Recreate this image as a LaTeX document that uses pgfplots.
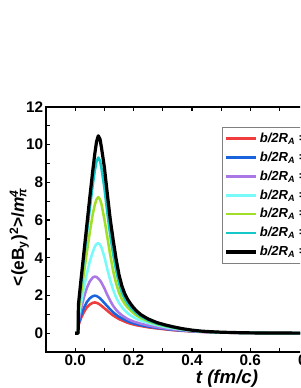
\documentclass[border=0pt]{standalone}
\usepackage{fontspec}
\setmainfont{Liberation Sans}
\usepackage{pgfplots}
\usepackage{pgfplotstable}
\pgfplotsset{compat=1.18}
\definecolor{cred}{RGB}{240,60,60}
\definecolor{cblue}{RGB}{25,100,220}
\definecolor{cpurple}{RGB}{170,120,230}
\definecolor{ccyan}{RGB}{120,250,250}
\definecolor{cgreen}{RGB}{160,222,40}
\definecolor{cteal}{RGB}{20,200,200}
\pgfplotstableread{
t red blue purple cyan green teal black
0 0 0 0 0 0 0 0
0.010 0 0 0 0 0 0 0
0.011 0.4 0.45 0.6 0.8 1.1 1.35 1.5
0.02 0.8 0.95 1.3 1.6 2.1 2.6 2.85
0.03 1.12 1.35 1.9 2.4 3.2 3.95 4.3
0.04 1.37 1.65 2.4 3.15 4.3 5.3 5.75
0.05 1.52 1.85 2.75 3.8 5.35 6.6 7.2
0.06 1.61 1.96 2.95 4.3 6.3 7.85 8.6
0.067 1.63 1.99 3.0 4.58 6.8 8.6 9.5
0.073 1.61 1.97 2.98 4.73 7.1 9.1 10.15
0.079 1.57 1.92 2.9 4.78 7.22 9.32 10.47
0.085 1.51 1.85 2.8 4.7 7.1 9.15 10.3
0.09 1.45 1.77 2.68 4.55 6.85 8.75 9.85
0.10 1.32 1.6 2.38 4.05 6.05 7.7 8.8
0.11 1.19 1.43 2.03 3.4 5.1 6.4 7.4
0.12 1.06 1.26 1.72 2.8 4.15 5.2 6.05
0.13 0.94 1.11 1.45 2.3 3.3 4.2 4.95
0.14 0.84 0.98 1.24 1.9 2.65 3.35 3.95
0.15 0.75 0.87 1.08 1.6 2.15 2.65 3.1
0.16 0.68 0.78 0.95 1.38 1.8 2.15 2.5
0.17 0.61 0.7 0.84 1.2 1.55 1.82 2.08
0.18 0.55 0.63 0.75 1.06 1.36 1.56 1.78
0.19 0.5 0.57 0.68 0.94 1.2 1.37 1.55
0.20 0.46 0.52 0.62 0.84 1.06 1.2 1.35
0.21 0.42 0.48 0.57 0.76 0.94 1.06 1.18
0.225 0.38 0.42 0.5 0.66 0.8 0.89 0.98
0.25 0.31 0.35 0.41 0.54 0.63 0.68 0.75
0.28 0.25 0.28 0.32 0.42 0.48 0.51 0.56
0.31 0.2 0.22 0.25 0.32 0.37 0.39 0.43
0.34 0.15 0.17 0.19 0.24 0.28 0.29 0.32
0.37 0.12 0.13 0.15 0.18 0.2 0.21 0.23
0.40 0.09 0.1 0.11 0.13 0.14 0.15 0.16
0.43 0.07 0.075 0.08 0.09 0.1 0.1 0.11
0.46 0.05 0.055 0.06 0.065 0.07 0.07 0.08
0.50 0.03 0.035 0.04 0.04 0.045 0.045 0.05
0.55 0.018 0.02 0.024 0.022 0.025 0.026 0.03
0.60 0.009 0.01 0.012 0.011 0.012 0.013 0.015
0.70 0.003 0.003 0.004 0.004 0.004 0.004 0.005
0.80 0 0 0 0 0 0 0
0.90 0 0 0 0 0 0 0
1.00 0 0 0 0 0 0 0
1.14 0 0 0 0 0 0 0
}\datatable
\begin{document}
\begin{tikzpicture}
\path[use as bounding box, clip] (-34.5pt,-27pt) rectangle (190.5pt,264pt);
\begin{axis}[
  at={(0,0)}, anchor=south west,
  scale only axis,
  width=271.5pt, height=183.75pt,
  xmin=-0.1, xmax=1.14,
  ymin=-1, ymax=12,
  xtick={0,0.2,0.4,0.6,0.8,1.0},
  minor xtick={-0.1,0.1,0.3,0.5,0.7,0.9,1.1},
  ytick={0,2,4,6,8,10,12},
  minor ytick={-1,1,3,5,7,9,11},
  tick align=inside,
  major tick length=3pt,
  minor tick length=3pt,
  axis line style={line width=1.1pt},
  every tick/.style={line width=0.9pt, black},
  /pgf/number format/assume math mode=true,
  xticklabel style={/pgf/number format/fixed, /pgf/number format/fixed zerofill, /pgf/number format/precision=1, inner sep=2pt},
  yticklabel style={inner sep=2pt},
  tick label style={font=\fontsize{11.5}{13}\selectfont\bfseries},
  xlabel={\textbf{\textit{t (fm/c)}}},
  xlabel style={at={(axis description cs:0.5,-0.108)}, anchor=center, font=\fontsize{14}{16}\selectfont},
  ylabel={\textbf{<(eB\textsubscript{y})\textsuperscript{2}>/\textit{m}\rlap{\textsuperscript{\textit{4}}}\textsubscript{\textit{π}}}},
  ylabel style={at={(axis description cs:-0.074,0.47)}, anchor=center, font=\fontsize{13}{15}\selectfont},
  legend style={at={(axis description cs:0.485,0.918)}, anchor=north west,
    draw=gray, line width=0.5pt, fill=white,
    font=\fontsize{9.8}{11}\selectfont\bfseries\itshape,
    row sep=1.6pt, inner sep=2pt},
  legend cell align=left,
  legend image code/.code={\draw[#1] (0pt,0pt) -- (22pt,0pt);},
  every axis plot/.append style={line join=round},
]
\addplot[cred, line width=1.9pt] table[x=t, y=red] {\datatable};
\addlegendentry{b/2R\textsubscript{A} = 0.1}
\addplot[cblue, line width=1.9pt] table[x=t, y=blue] {\datatable};
\addlegendentry{b/2R\textsubscript{A} = 0.2}
\addplot[cpurple, line width=1.9pt] table[x=t, y=purple] {\datatable};
\addlegendentry{b/2R\textsubscript{A} = 0.3}
\addplot[ccyan, line width=1.9pt] table[x=t, y=cyan] {\datatable};
\addlegendentry{b/2R\textsubscript{A} = 0.4}
\addplot[cgreen, line width=1.9pt] table[x=t, y=green] {\datatable};
\addlegendentry{b/2R\textsubscript{A} = 0.5}
\addplot[cteal, line width=1.9pt] table[x=t, y=teal] {\datatable};
\addlegendentry{b/2R\textsubscript{A} = 0.6}
\addplot[black, line width=2.4pt] table[x=t, y=black] {\datatable};
\addlegendentry{b/2R\textsubscript{A} = 0.7}
\end{axis}
\end{tikzpicture}
\end{document}
